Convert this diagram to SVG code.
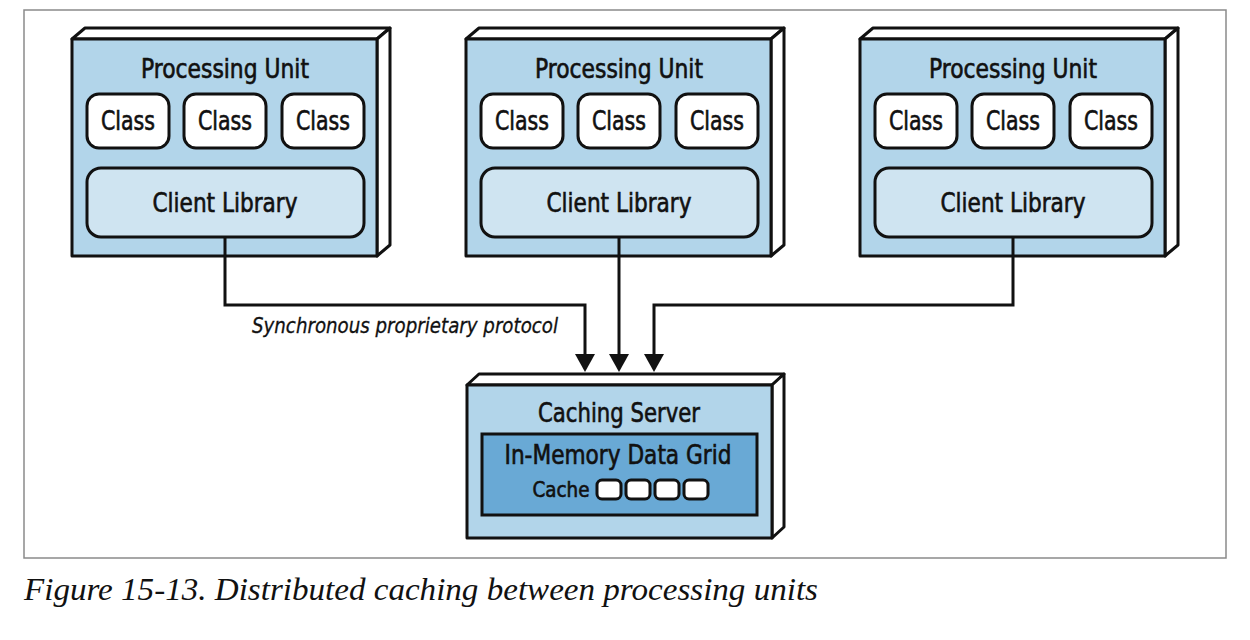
<svg xmlns="http://www.w3.org/2000/svg" width="1250" height="640" viewBox="0 0 1250 640">
<style>
.face{fill:#b2d5ea;stroke:#111;stroke-width:3;stroke-linejoin:round}
.side{fill:#fff;stroke:#111;stroke-width:3;stroke-linejoin:round}
.cls{fill:#fff;stroke:#111;stroke-width:3}
.lib{fill:#cfe4f1;stroke:#111;stroke-width:3}
.grid{fill:#69a9d5;stroke:#111;stroke-width:3}
.t{font-family:"DejaVu Sans Condensed","DejaVu Sans","Liberation Sans",sans-serif;font-stretch:condensed;font-size:26px;fill:#111;stroke:#111;stroke-width:0.6;text-anchor:middle}
.conn{fill:none;stroke:#111;stroke-width:3}
</style>
<defs>
<marker id="arr" markerUnits="userSpaceOnUse" markerWidth="20" markerHeight="20" viewBox="0 0 18 20" refX="0" refY="10" orient="auto">
<path d="M0,0 L18,10 L0,20 z" fill="#111"/>
</marker>
</defs>
<rect x="24" y="10" width="1202" height="548" fill="#fff" stroke="#8a8a8a" stroke-width="1.5"/>

<g id="pu1" transform="translate(72,0)">
<path class="side" d="M0,39 L13,28 L318,28 L305,39 Z"/>
<path class="side" d="M305,39 L318,28 L318,245 L305,256 Z"/>
<rect class="face" x="0" y="39" width="305" height="217"/>
<text class="t" x="153" y="78" textLength="168" lengthAdjust="spacingAndGlyphs">Processing Unit</text>
<rect class="cls" x="15" y="94" width="82" height="54" rx="12"/>
<rect class="cls" x="112" y="94" width="82" height="54" rx="12"/>
<rect class="cls" x="210" y="94" width="82" height="54" rx="12"/>
<text class="t" x="56" y="130" textLength="54" lengthAdjust="spacingAndGlyphs">Class</text>
<text class="t" x="153" y="130" textLength="54" lengthAdjust="spacingAndGlyphs">Class</text>
<text class="t" x="251" y="130" textLength="54" lengthAdjust="spacingAndGlyphs">Class</text>
<rect class="lib" x="15" y="168" width="277" height="69" rx="14"/>
<text class="t" x="153" y="212" textLength="145" lengthAdjust="spacingAndGlyphs">Client Library</text>
</g>

<g id="pu2" transform="translate(466,0)">
<path class="side" d="M0,39 L13,28 L318,28 L305,39 Z"/>
<path class="side" d="M305,39 L318,28 L318,245 L305,256 Z"/>
<rect class="face" x="0" y="39" width="305" height="217"/>
<text class="t" x="153" y="78" textLength="168" lengthAdjust="spacingAndGlyphs">Processing Unit</text>
<rect class="cls" x="15" y="94" width="82" height="54" rx="12"/>
<rect class="cls" x="112" y="94" width="82" height="54" rx="12"/>
<rect class="cls" x="210" y="94" width="82" height="54" rx="12"/>
<text class="t" x="56" y="130" textLength="54" lengthAdjust="spacingAndGlyphs">Class</text>
<text class="t" x="153" y="130" textLength="54" lengthAdjust="spacingAndGlyphs">Class</text>
<text class="t" x="251" y="130" textLength="54" lengthAdjust="spacingAndGlyphs">Class</text>
<rect class="lib" x="15" y="168" width="277" height="69" rx="14"/>
<text class="t" x="153" y="212" textLength="145" lengthAdjust="spacingAndGlyphs">Client Library</text>
</g>

<g id="pu3" transform="translate(860,0)">
<path class="side" d="M0,39 L13,28 L318,28 L305,39 Z"/>
<path class="side" d="M305,39 L318,28 L318,245 L305,256 Z"/>
<rect class="face" x="0" y="39" width="305" height="217"/>
<text class="t" x="153" y="78" textLength="168" lengthAdjust="spacingAndGlyphs">Processing Unit</text>
<rect class="cls" x="15" y="94" width="82" height="54" rx="12"/>
<rect class="cls" x="112" y="94" width="82" height="54" rx="12"/>
<rect class="cls" x="210" y="94" width="82" height="54" rx="12"/>
<text class="t" x="56" y="130" textLength="54" lengthAdjust="spacingAndGlyphs">Class</text>
<text class="t" x="153" y="130" textLength="54" lengthAdjust="spacingAndGlyphs">Class</text>
<text class="t" x="251" y="130" textLength="54" lengthAdjust="spacingAndGlyphs">Class</text>
<rect class="lib" x="15" y="168" width="277" height="69" rx="14"/>
<text class="t" x="153" y="212" textLength="145" lengthAdjust="spacingAndGlyphs">Client Library</text>
</g>

<g id="connectors">
<path class="conn" d="M225,237 V305 H585 V354" marker-end="url(#arr)"/>
<path class="conn" d="M619,237 V354" marker-end="url(#arr)"/>
<path class="conn" d="M1013,237 V305 H654 V354" marker-end="url(#arr)"/>
<text x="252" y="333" font-family="'DejaVu Sans Condensed','DejaVu Sans','Liberation Sans',sans-serif" font-stretch="condensed" font-style="italic" font-size="22" fill="#111" stroke="#111" stroke-width="0.3" textLength="306" lengthAdjust="spacingAndGlyphs">Synchronous proprietary protocol</text>
</g>

<g id="caching-server">
<path class="side" d="M467,385 L479,374 L784,374 L772,385 Z"/>
<path class="side" d="M772,385 L784,374 L784,527 L772,538 Z"/>
<rect class="face" x="467" y="385" width="305" height="153"/>
<text class="t" x="619" y="422" textLength="162" lengthAdjust="spacingAndGlyphs">Caching Server</text>
<rect class="grid" x="482" y="434" width="275" height="81"/>
<text class="t" x="618" y="464" textLength="227" lengthAdjust="spacingAndGlyphs">In-Memory Data Grid</text>
<text class="t" x="561" y="497" style="font-size:21px" textLength="57" lengthAdjust="spacingAndGlyphs">Cache</text>
<rect class="cls" x="597" y="480" width="24" height="19" rx="5"/>
<rect class="cls" x="626" y="480" width="24" height="19" rx="5"/>
<rect class="cls" x="655" y="480" width="24" height="19" rx="5"/>
<rect class="cls" x="684" y="480" width="24" height="19" rx="5"/>
</g>

<text x="24" y="600" font-family="'Liberation Serif',serif" font-style="italic" font-size="31" fill="#111" textLength="794" lengthAdjust="spacingAndGlyphs">Figure 15-13. Distributed caching between processing units</text>
</svg>
